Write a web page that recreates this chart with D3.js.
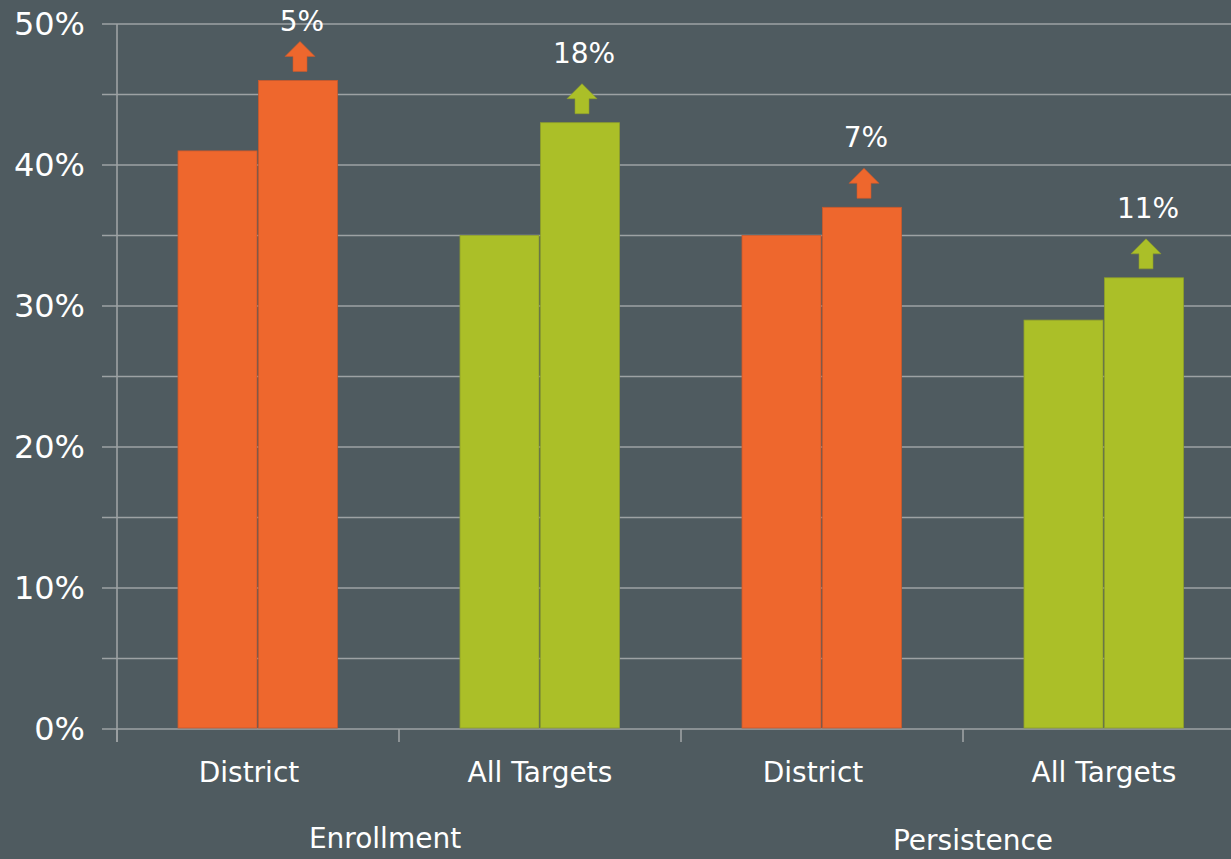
<!DOCTYPE html>
<html>
<head>
<meta charset="utf-8">
<script src="https://cdn.jsdelivr.net/npm/d3@7"></script>
<style>
	html, body { margin: 0; padding: 0; background: #4f5b60; overflow: hidden; }
	svg { display: block; font-family: "DejaVu Sans", Verdana, sans-serif; }
</style>
</head>
<body>
<div id="chart"></div>
<script>
// Chart data
const groups = ['Enrollment', 'Persistence'];
const categories = ['District', 'All Targets', 'District', 'All Targets'];
const categoryGroup = ['Enrollment', 'Enrollment', 'Persistence', 'Persistence'];
const categoryColor = ['orange', 'green', 'orange', 'green'];
const beforeValues = [41, 35, 35, 29];
const afterValues = [46, 43, 37, 32];
const changeLabels = ['5%', '18%', '7%', '11%'];
const yTicks = [0, 10, 20, 30, 40, 50];
const yGridTicks = [0, 5, 10, 15, 20, 25, 30, 35, 40, 45, 50];

(function() {
	const palette = {
		orange: { fill: '#ee672d', stroke: '#c9592c' },
		green: { fill: '#abbf28', stroke: '#8fa02a' }
	};
	const bg = '#4f5b60';
	const gridColor = '#9da2a4';
	const textColor = '#ffffff';

	const width = 1231, height = 859;
	const left = 117, top = 24, bottom = 729;
	const plotRight = 1245; // plot area runs slightly past the right edge

	const svg = d3.select('#chart').append('svg')
		.attr('width', width)
		.attr('height', height);

	svg.append('rect').attr('width', width).attr('height', height).attr('fill', bg);

	// Scales
	const x = d3.scaleBand()
		.domain(d3.range(categories.length))
		.range([left, plotRight])
		.padding(0);

	const xInner = d3.scaleBand()
		.domain(['before', 'after'])
		.range([0, x.bandwidth()])
		.paddingInner(0)
		.paddingOuter(0.7625);

	const y = d3.scaleLinear().domain([0, 50]).range([bottom, top]);

	// Gridlines
	svg.append('g')
		.selectAll('line')
		.data(yGridTicks)
		.join('line')
		.attr('x1', left - 15)
		.attr('x2', width)
		.attr('y1', d => y(d))
		.attr('y2', d => y(d))
		.attr('stroke', gridColor)
		.attr('stroke-width', 1.6);

	// Y axis labels
	const yAxis = svg.append('g')
		.attr('transform', 'translate(' + left + ',0)')
		.call(d3.axisLeft(y).tickValues(yTicks).tickFormat(d => d + '%').tickSize(0).tickPadding(32));
	yAxis.select('.domain').remove();
	yAxis.selectAll('text')
		.style('font-family', '"DejaVu Sans", Verdana, sans-serif')
		.style('font-size', '32px')
		.attr('fill', textColor);

	// Vertical axis line
	svg.append('line')
		.attr('x1', left).attr('x2', left)
		.attr('y1', y(50)).attr('y2', bottom + 13)
		.attr('stroke', gridColor)
		.attr('stroke-width', 1.6);

	// X axis tick marks at band boundaries
	svg.append('g')
		.selectAll('line')
		.data(d3.range(categories.length))
		.join('line')
		.attr('x1', d => x(d))
		.attr('x2', d => x(d))
		.attr('y1', bottom)
		.attr('y2', bottom + 13)
		.attr('stroke', gridColor)
		.attr('stroke-width', 1.6);

	// Bars
	const barData = [];
	categories.forEach(function(c, i) {
		barData.push({ i: i, key: 'before', value: beforeValues[i], color: categoryColor[i] });
		barData.push({ i: i, key: 'after', value: afterValues[i], color: categoryColor[i] });
	});

	svg.append('g')
		.selectAll('rect')
		.data(barData)
		.join('rect')
		.attr('x', d => x(d.i) + xInner(d.key) + (d.key === 'after' ? 0.5 : 0))
		.attr('width', d => xInner.bandwidth() - 1)
		.attr('y', d => y(d.value))
		.attr('height', d => y(0) - y(d.value) - 1)
		.attr('fill', d => palette[d.color].fill)
		.attr('stroke', d => palette[d.color].stroke)
		.attr('stroke-width', 0.8);

	// Up arrows with change labels above the second bar
	const arrowG = svg.append('g');
	categories.forEach(function(c, i) {
		const cx = x(i) + xInner('after') + xInner.bandwidth() / 2 + 2;
		const base = y(afterValues[i]) - 9;
		const tip = base - 30;
		const col = palette[categoryColor[i]];
		const path = [
			[cx - 7, base], [cx - 7, tip + 15], [cx - 15, tip + 15],
			[cx, tip], [cx + 15, tip + 15], [cx + 7, tip + 15], [cx + 7, base]
		];
		arrowG.append('path')
			.attr('d', d3.line()(path) + 'Z')
			.attr('fill', col.fill)
			.attr('stroke', col.stroke)
			.attr('stroke-width', 0.6);

		arrowG.append('text')
			.attr('x', cx + 2)
			.attr('y', Math.max(tip - 21, 31))
			.attr('text-anchor', 'middle')
			.attr('fill', textColor)
			.style('font-size', '28px')
			.text(changeLabels[i]);
	});

	// Category labels
	const catDx = { 'District': -9, 'All Targets': 0 };
	svg.append('g')
		.selectAll('text')
		.data(categories)
		.join('text')
		.attr('x', (d, i) => x(i) + x.bandwidth() / 2 + catDx[d])
		.attr('y', 782)
		.attr('text-anchor', 'middle')
		.attr('fill', textColor)
		.style('font-size', '28px')
		.text(d => d);

	// Group labels
	const groupPos = { 'Enrollment': { dx: -14, y: 848 }, 'Persistence': { dx: 10, y: 850 } };
	svg.append('g')
		.selectAll('text')
		.data(groups)
		.join('text')
		.attr('x', function(g) {
			const idx = d3.range(categories.length).filter(i => categoryGroup[i] === g);
			const x0 = x(idx[0]);
			const x1 = x(idx[idx.length - 1]) + x.bandwidth();
			return (x0 + x1) / 2 + groupPos[g].dx;
		})
		.attr('y', g => groupPos[g].y)
		.attr('text-anchor', 'middle')
		.attr('fill', textColor)
		.style('font-size', '28px')
		.text(g => g);
})();
</script>
</body>
</html>
